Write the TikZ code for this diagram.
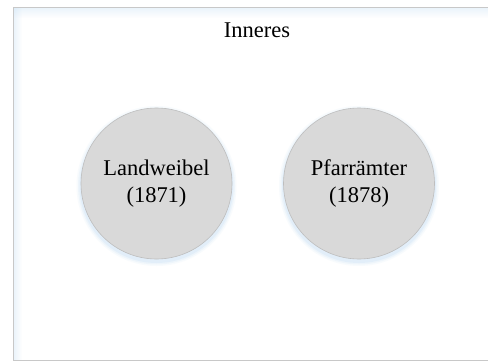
\documentclass[tikz,border=0pt]{standalone}
\usepackage{fontspec}
\setmainfont{Liberation Serif}
\usetikzlibrary{fadings}
\definecolor{frame}{RGB}{200,200,200}
\definecolor{glow}{RGB}{200,225,245}
\definecolor{disc}{RGB}{217,217,217}
\definecolor{discedge}{RGB}{190,190,190}
\tikzset{
  lbl/.style={font=\fontsize{22.5}{27}\selectfont, align=center, text=black},
  circ/.style={circle, minimum size=151pt, inner sep=0pt, fill=disc, draw=discedge, line width=0.6pt}
}
\begin{document}
\begin{tikzpicture}[x=1pt,y=-1pt]
\useasboundingbox (0,0) rectangle (488,361);
\fill[white] (0,0) rectangle (488,361);
% inner glow of frame
\fill[glow, opacity=0.35, path fading=south] (14,8) rectangle (488,18);
\fill[glow, opacity=0.35, path fading=east] (14,8) rectangle (22,360);
\draw[frame, line width=1pt] (492,7.5) -- (13.5,7.5) -- (13.5,360) -- (492,360);
\node[font=\fontsize{22.5}{27}\selectfont] (title) at (257,30) {Inneres};
% glows
\foreach \r/\o in {80/0.12,78.5/0.2,77/0.3} {
  \fill[glow, opacity=\o] (156.5,186) circle (\r);
  \fill[glow, opacity=\o] (359,186) circle (\r);
}
\node[circ] (lw) at (156.5,183.5) {};
\node[circ] (pf) at (359,183.5) {};
\node[lbl] at (lw) {Landweibel\\(1871)};
\node[lbl] at (pf) {Pfarrämter\\(1878)};
\end{tikzpicture}
\end{document}
